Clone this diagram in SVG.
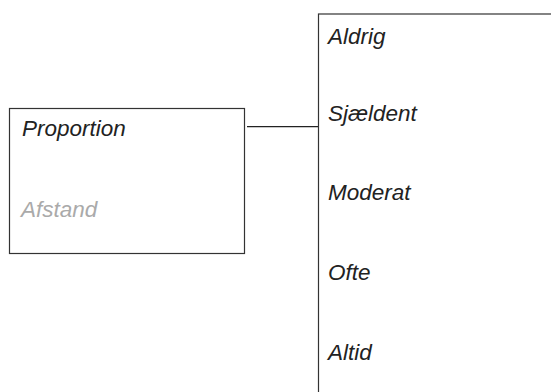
<svg xmlns="http://www.w3.org/2000/svg" width="551" height="392" viewBox="0 0 551 392">
<style>
.box{fill:#fff;stroke:#333;stroke-width:1.2}
.t{font-family:"Liberation Sans",Arial,sans-serif;font-style:italic;font-size:22.5px;fill:#222}
.g{fill:#aaa}
.c{stroke:#222;stroke-width:1.2;fill:none}
</style>
<rect width="551" height="392" fill="#fff"/>
<g id="connectors"><line class="c" x1="247" y1="126.7" x2="318.5" y2="126.7"/></g>
<g id="proportion">
<rect class="box" x="9.5" y="108.5" width="235" height="145"/>
<text class="t" x="22" y="136">Proportion</text>
<text class="t g" x="21" y="217">Afstand</text>
</g>
<g id="scale">
<rect class="box" x="318.5" y="14" width="260" height="400"/>
<text class="t" x="328" y="44">Aldrig</text>
<text class="t" x="328" y="121">Sjældent</text>
<text class="t" x="328" y="200">Moderat</text>
<text class="t" x="328" y="280">Ofte</text>
<text class="t" x="328" y="360">Altid</text>
</g>
</svg>
